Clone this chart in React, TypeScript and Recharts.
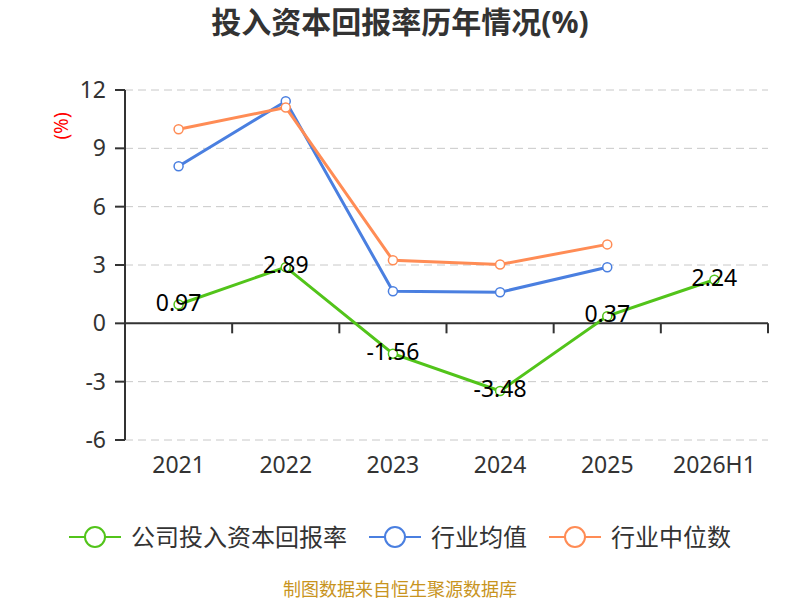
import {
  CartesianGrid,
  LabelList,
  Line,
  LineChart,
  ReferenceLine,
  XAxis,
  YAxis,
} from "recharts"

const years = ["2021", "2022", "2023", "2024", "2025", "2026H1"]
const companyRoic = [0.97, 2.89, -1.56, -3.48, 0.37, 2.24]
const industryAvg = [8.08, 11.42, 1.65, 1.6, 2.88, null]
const industryMedian = [9.98, 11.1, 3.24, 3.03, 4.06, null]
const yTicks = [-6, -3, 0, 3, 6, 9, 12]

const series = [
  { key: "company", name: "公司投入资本回报率", color: "#52c41a" },
  { key: "avg", name: "行业均值", color: "#4a7fe0" },
  { key: "median", name: "行业中位数", color: "#ff8c55" },
]

const font = '"Noto Sans", "Noto Sans CJK SC", sans-serif'

const rows = years.map((year, i) => ({
  year,
  company: companyRoic[i],
  avg: industryAvg[i],
  median: industryMedian[i],
}))

// zero line with the category boundary ticks hanging below it
function ZeroAxis(props: any) {
  const { x1, x2, y1 } = props
  const step = (x2 - x1) / years.length
  return (
    <g>
      <line x1={x1} x2={x2} y1={y1} y2={y1} stroke="#333" strokeWidth={2} />
      {years.map((_, i) => (
        <line
          key={i}
          x1={x1 + step * (i + 1)}
          x2={x1 + step * (i + 1)}
          y1={y1}
          y2={y1 + 10}
          stroke="#333"
          strokeWidth={2}
        />
      ))}
    </g>
  )
}

export default function App() {
  return (
    <div
      style={{
        position: "absolute",
        left: 0,
        top: 0,
        width: 800,
        height: 600,
        background: "#fff",
        fontFamily: font,
      }}
    >
      <div
        style={{
          position: "absolute",
          top: 2,
          width: 800,
          textAlign: "center",
          fontSize: 30,
          fontWeight: 700,
          color: "#333",
          lineHeight: "40px",
        }}
      >
        投入资本回报率历年情况(%)
      </div>

      <LineChart
        width={800}
        height={600}
        data={rows}
        margin={{ top: 90, right: 32, left: 0, bottom: 120 }}
      >
        <CartesianGrid
          vertical={false}
          stroke="#c8c8c8"
          strokeDasharray="8 5"
        />
        <XAxis
          dataKey="year"
          scale="band"
          axisLine={false}
          tickLine={false}
          height={40}
          tickMargin={11}
          tick={{ fill: "#333", fontSize: 23, fontFamily: font }}
        />
        <YAxis
          domain={[-6, 12]}
          ticks={yTicks}
          width={125}
          tickSize={10}
          tickMargin={9}
          axisLine={{ stroke: "#333", strokeWidth: 2 }}
          tickLine={{ stroke: "#333", strokeWidth: 2 }}
          tick={{ fill: "#333", fontSize: 23, fontFamily: font }}
          label={{
            content: () => (
              <text
                x={68}
                y={126}
                transform="rotate(-90 68 126)"
                textAnchor="middle"
                fill="#ff0000"
                fontSize={19}
                fontFamily={font}
              >
                (%)
              </text>
            ),
          }}
        />
        <ReferenceLine y={0} shape={<ZeroAxis />} />
        {series.map((s) => (
          <Line
            key={s.key}
            dataKey={s.key}
            name={s.name}
            stroke={s.color}
            strokeWidth={3}
            dot={{ r: 4.5, fill: "#fff", stroke: s.color, strokeWidth: 1.5 }}
            activeDot={false}
            connectNulls={false}
            isAnimationActive={false}
          >
            {s.key === "company" ? (
              <LabelList
                dataKey="company"
                position="center"
                fill="#000"
                fontSize={23}
                fontFamily={font}
                dy={-2}
              />
            ) : null}
          </Line>
        ))}
      </LineChart>

      <div
        style={{
          position: "absolute",
          top: 521,
          width: 800,
          display: "flex",
          justifyContent: "center",
          gap: 22,
          fontSize: 24,
          color: "#333",
          lineHeight: "32px",
        }}
      >
        {series.map((s) => (
          <div key={s.key} style={{ display: "flex", alignItems: "center" }}>
            <svg width={52} height={24} style={{ marginRight: 10 }}>
              <line x1={0} x2={52} y1={12} y2={12} stroke={s.color} strokeWidth={2} />
              <circle cx={26} cy={12} r={10} fill="#fff" stroke={s.color} strokeWidth={2} />
            </svg>
            <span>{s.name}</span>
          </div>
        ))}
      </div>

      <div
        style={{
          position: "absolute",
          top: 577,
          width: 800,
          textAlign: "center",
          fontSize: 18,
          color: "#c8941e",
          lineHeight: "24px",
        }}
      >
        制图数据来自恒生聚源数据库
      </div>
    </div>
  )
}
